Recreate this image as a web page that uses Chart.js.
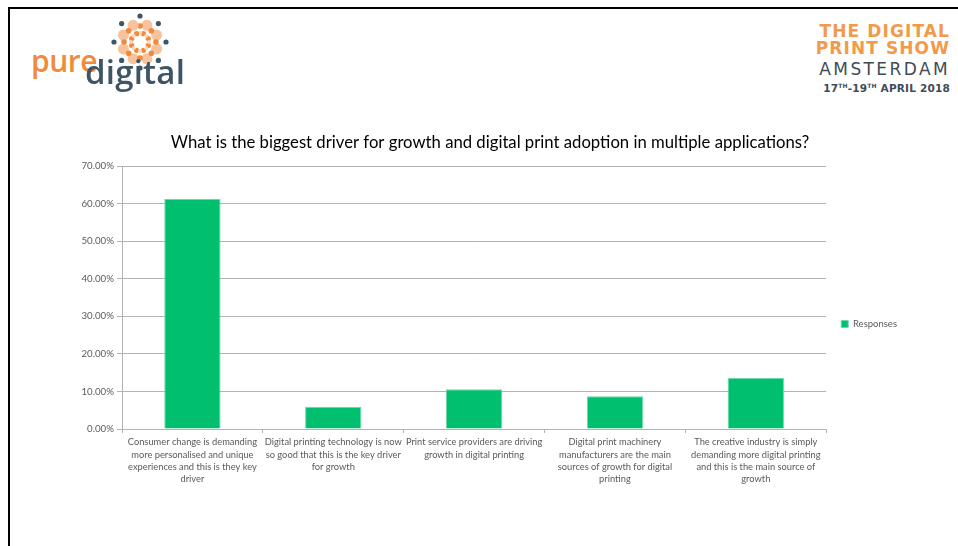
<!DOCTYPE html>
<html>
<head>
<meta charset="utf-8">
<script src="https://cdn.jsdelivr.net/npm/chart.js@4.4.1/dist/chart.umd.min.js"></script>
<style>
  html, body { margin: 0; padding: 0; background: #fff; }
  body { width: 958px; height: 546px; position: relative; overflow: hidden; }
  .frame { position: absolute; left: 8px; top: 7px; right: -5px; bottom: -5px;
           border-top: 2.5px solid #000; border-left: 2.5px solid #000; }
  .pure { position: absolute; left: 31px; top: 40px; font: 600 30px "Open Sans", sans-serif;
          color: #f08a3c; letter-spacing: -0.5px; }
  .digital { position: absolute; left: 85px; top: 49px; font: 600 33px "Open Sans", sans-serif;
             color: #3e5566; letter-spacing: 0.2px; }
  #dots { position: absolute; left: 108px; top: 11px; }
  .show { position: absolute; right: 8px; top: 23px; text-align: right; font-family: "DejaVu Sans", sans-serif; }
  .show .o { color: #f29a4a; font-weight: bold; font-size: 17px; letter-spacing: 1.1px; line-height: 17px; }
  .show .a { color: #3f4c57; font-size: 17px; letter-spacing: 2.4px; line-height: 22px; margin-top: 1px; }
  .show .d { color: #3f4c57; font-weight: bold; font-size: 10.5px; letter-spacing: 0.2px; line-height: 12px; }
  .show sup { font-size: 6px; vertical-align: 4px; }
  #wrap { position: absolute; left: 73px; top: 126px; width: 834px; height: 396px; }
</style>
</head>
<body>
<div class="frame"></div>
<canvas id="dots" width="64" height="64"></canvas>
<div class="pure">pure</div>
<div class="digital">digital</div>
<div class="show">
  <div class="o">THE DIGITAL</div>
  <div class="o">PRINT SHOW</div>
  <div class="a">AMSTERDAM</div>
  <div class="d">17<sup>TH</sup>-19<sup>TH</sup> APRIL 2018</div>
</div>
<div id="wrap"><canvas id="chart"></canvas></div>
<script>
const chartTitle = "What is the biggest driver for growth and digital print adoption in multiple applications?";
const categories = [
  ["Consumer change is demanding", "more personalised and unique", "experiences and this is they key", "driver"],
  ["Digital printing technology is now", "so good that this is the key driver", "for growth"],
  ["Print service providers are driving", "growth in digital printing"],
  ["Digital print machinery", "manufacturers are the main", "sources of growth for digital", "printing"],
  ["The creative industry is simply", "demanding more digital printing", "and this is the main source of", "growth"],
];
const seriesName = "Responses";
const responses = [61.2, 5.9, 10.6, 8.7, 13.6];
const yTicks = [0, 10, 20, 30, 40, 50, 60, 70];

// decorative dot flower of the logo
(function () {
  const c = document.getElementById("dots").getContext("2d");
  const cx = 32, cy = 31;
  const dot = (a, r, size, col) => {
    c.beginPath();
    c.arc(cx + r * Math.cos(a), cy + r * Math.sin(a), size, 0, Math.PI * 2);
    c.fillStyle = col;
    c.fill();
  };
  for (let i = 0; i < 8; i++) {
    const a = -Math.PI / 2 + i * Math.PI / 4;
    dot(a, 26, 2.6, "#3e5566");
    dot(a + Math.PI / 8, 18, 5.5, "#f7c29c");
    dot(a, 16, 2.8, "#f08a3c");
    dot(a + Math.PI / 8, 9, 2.6, "#f08a3c");
    dot(a, 9, 2, "#fbd9c0");
  }
})();

const textColor = "#595959";
const gridColor = "#b3b3b3";

new Chart(document.getElementById("chart"), {
  type: "bar",
  data: {
    labels: categories,
    datasets: [{
      label: seriesName,
      data: responses,
      backgroundColor: "#00bf6f",
      borderColor: "#6fd8a8",
      borderWidth: 1,
      barPercentage: 0.4,
      categoryPercentage: 1,
    }],
  },
  options: {
    responsive: true,
    maintainAspectRatio: false,
    animation: false,
    layout: { padding: 0 },
    plugins: {
      tooltip: { enabled: false },
      title: {
        display: true,
        text: chartTitle,
        color: "#000",
        font: { family: "Lato", size: 16.7, weight: "normal" },
        padding: { top: 7, bottom: 13 },
      },
      legend: {
        position: "right",
        labels: {
          color: textColor,
          boxWidth: 7,
          boxHeight: 7,
          padding: 15,
          font: { family: "Lato", size: 9.5 },
        },
      },
    },
    scales: {
      x: {
        grid: { drawOnChartArea: false, drawTicks: true, tickLength: 4, color: gridColor },
        border: { color: gridColor },
        ticks: {
          color: textColor,
          font: { family: "Lato", size: 9.3, lineHeight: 1.33 },
          maxRotation: 0,
          autoSkip: false,
          padding: 3,
        },
        afterFit(scale) { scale.height = 93; },
      },
      y: {
        min: 0,
        max: 70,
        grid: { color: gridColor, tickLength: 5 },
        border: { color: gridColor },
        afterBuildTicks(scale) { scale.ticks = yTicks.map((v) => ({ value: v })); },
        ticks: {
          color: textColor,
          font: { family: "Lato", size: 9.7 },
          padding: 3,
          callback: (v) => v.toFixed(2) + "%",
        },
        afterFit(scale) { scale.width = 49; },
      },
    },
  },
});
</script>
</body>
</html>
